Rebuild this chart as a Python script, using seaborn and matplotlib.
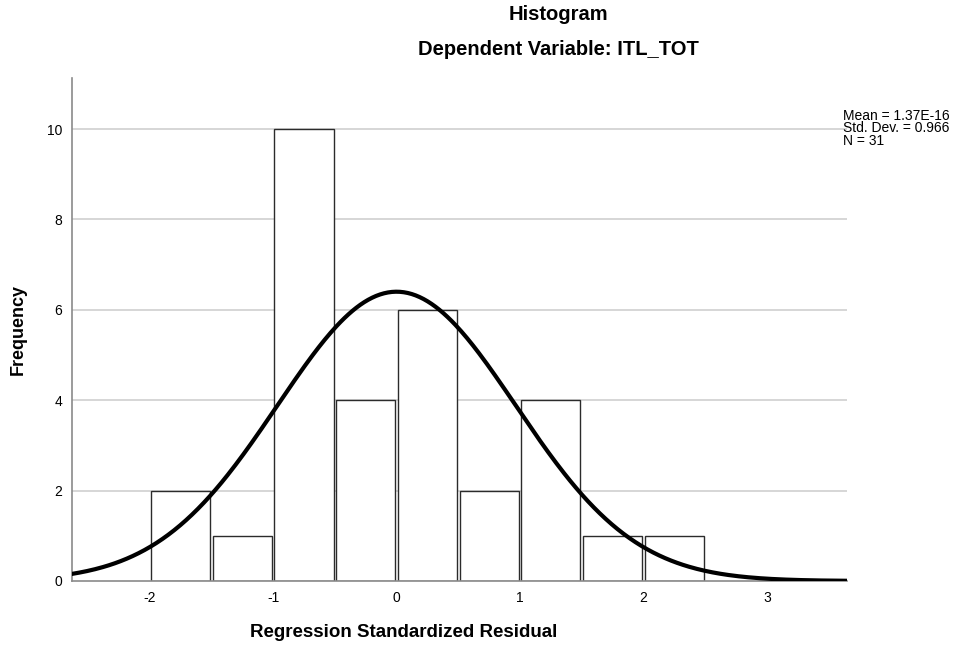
import numpy as np
import pandas as pd
import matplotlib
matplotlib.use("Agg")
import matplotlib.pyplot as plt
import seaborn as sns

# Residual histogram: bin edges and frequencies
bin_edges = [-2.0, -1.5, -1.0, -0.5, 0.0, 0.5, 1.0, 1.5, 2.0, 2.5]
frequencies = [2, 1, 10, 4, 6, 2, 4, 1, 1]
resid_mean = 1.37e-16
resid_sd = 0.966
n_obs = 31
x_ticks = [-2, -1, 0, 1, 2, 3]
y_ticks = [0, 2, 4, 6, 8, 10]

sns.set_theme(style="white")
plt.rcParams["font.family"] = ["Liberation Sans", "DejaVu Sans"]
plt.rcParams["text.color"] = "black"
plt.rcParams["xtick.color"] = "black"
plt.rcParams["ytick.color"] = "black"

fig = plt.figure(figsize=(9.71, 6.47), dpi=100)
ax = fig.add_axes([72 / 971, 1 - 581 / 647, (847 - 72) / 971, (581 - 78) / 647])

centers = [(a + b) / 2 for a, b in zip(bin_edges[:-1], bin_edges[1:])]
df = pd.DataFrame({"resid": centers, "count": frequencies})
sns.histplot(data=df, x="resid", weights="count", bins=bin_edges, shrink=0.96,
             color="white", edgecolor="#2b2b2b", linewidth=1.0, alpha=1, ax=ax, zorder=2)

# Normal curve scaled to the histogram
bw = bin_edges[1] - bin_edges[0]
xs = np.linspace(-2.7, 3.7, 400)
ys = n_obs * bw * np.exp(-0.5 * ((xs - resid_mean) / resid_sd) ** 2) / (resid_sd * np.sqrt(2 * np.pi))
sns.lineplot(x=xs, y=ys, color="black", linewidth=3.0, ax=ax, zorder=3)

ax.set_xlim(-2.63, 3.65)
ax.set_ylim(0, 11.13)
ax.set_xticks(x_ticks)
ax.set_yticks(y_ticks)
ax.set_xticklabels([str(t) for t in x_ticks], fontsize=10)
ax.set_yticklabels([str(t) for t in y_ticks], fontsize=10)
ax.tick_params(axis="y", length=0, pad=7)
ax.tick_params(axis="x", length=0, pad=7)
ax.set_xlabel("")
ax.set_ylabel("")
for y in y_ticks[1:]:
    ax.axhline(y, color="#cfcfcf", linewidth=1.2, zorder=0)
for s in ["top", "right"]:
    ax.spines[s].set_visible(False)
for s in ["left", "bottom"]:
    ax.spines[s].set_color("#8a8a8a")
    ax.spines[s].set_linewidth(1.2)

fig.text(558 / 971, 1 - 20 / 647, "Histogram", ha="center", va="baseline",
         fontsize=14.5, fontweight="bold")
fig.text(558 / 971, 1 - 55 / 647, "Dependent Variable: ITL_TOT", ha="center", va="baseline",
         fontsize=14.5, fontweight="bold")
fig.text(404 / 971, 1 - 637 / 647, "Regression Standardized Residual", ha="center", va="baseline",
         fontsize=13.5, fontweight="bold")
fig.text(18 / 971, 1 - 330 / 647, "Frequency", ha="center", va="center", rotation=90,
         fontsize=13, fontweight="bold")
fig.text(843 / 971, 1 - 109 / 647,
         "Mean = 1.37E-16\nStd. Dev. = 0.966\nN = %d" % n_obs,
         ha="left", va="top", fontsize=10, linespacing=0.85)

fig.savefig("out.png", dpi=100)
